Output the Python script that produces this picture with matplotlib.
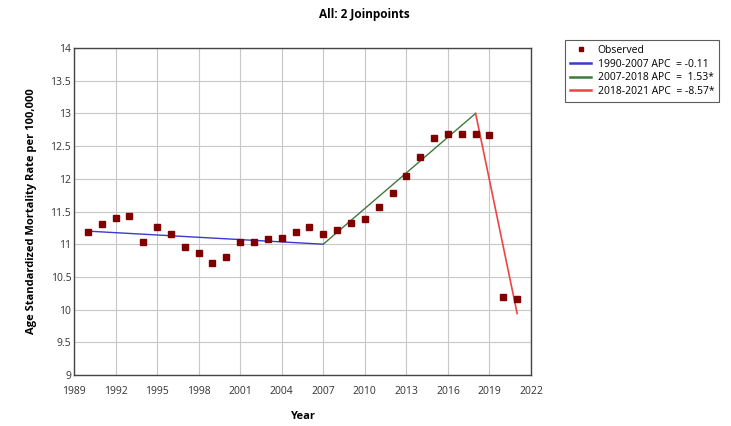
import numpy as np
import matplotlib.pyplot as plt
from matplotlib.ticker import FuncFormatter

# observed age standardized mortality rates
years = list(range(1990, 2022))
observed = [11.19, 11.31, 11.40, 11.43, 11.03, 11.26, 11.16, 10.95, 10.87, 10.72,
            10.81, 11.03, 11.04, 11.08, 11.10, 11.18, 11.26, 11.16, 11.22, 11.32,
            11.39, 11.57, 11.79, 12.05, 12.33, 12.62, 12.69, 12.69, 12.69, 12.67,
            10.20, 10.16]

# fitted joinpoint segments
seg1_years = [1990, 2007]
seg1_vals = [11.20, 11.00]
seg2_years = [2007, 2018]
seg2_vals = [11.00, 13.00]
seg3_years = [2018, 2021]
seg3_vals = [13.00, 9.94]

seg_labels = ["1990-2007 APC  = -0.11",
              "2007-2018 APC  =  1.53*",
              "2018-2021 APC  = -8.57*"]

xticks = list(range(1989, 2023, 3))
yticks = np.arange(9, 14.01, 0.5)

plt.rcParams['font.family'] = ['Open Sans', 'DejaVu Sans']

fig = plt.figure(figsize=(7.31, 4.26), dpi=100)
ax = fig.add_axes([0.1012, 0.1197, 0.6252, 0.7676])

ax.plot(years, observed, linestyle='none', marker='s', markersize=4.5,
        color='#800000', label='Observed', zorder=3)
ax.plot(seg1_years, seg1_vals, color='#3a3acc', linewidth=1.0, label=seg_labels[0])
ax.plot(seg2_years, seg2_vals, color='#3d7a3d', linewidth=1.0, label=seg_labels[1])
ax.plot(seg3_years, seg3_vals, color='#ee4444', linewidth=1.2, label=seg_labels[2])

ax.set_xlim(1989, 2022)
ax.set_ylim(9, 14)
ax.set_xticks(xticks)
ax.set_yticks(yticks)
ax.yaxis.set_major_formatter(FuncFormatter(lambda v, p: f"{v:g}"))
ax.tick_params(labelsize=7.5, length=0, colors='#333333')
ax.tick_params(axis='x', pad=8)
ax.tick_params(axis='y', pad=2)
ax.grid(True, color='#c8c8c8', linewidth=0.8)
ax.set_axisbelow(True)
for s in ax.spines.values():
    s.set_color('#444444')
    s.set_linewidth(1.0)

ax.set_xlabel("Year", fontsize=8, fontweight='bold', labelpad=10)
ax.set_ylabel("Age Standardized Mortality Rate per 100,000", fontsize=8,
              fontweight='bold', labelpad=10)
fig.text(0.498, 0.965, "All: 2 Joinpoints", fontsize=8.5, fontweight='bold',
         ha='center', va='center')

leg = ax.legend(loc='upper left', bbox_to_anchor=(1.075, 1.025), fontsize=7.5,
                frameon=True, fancybox=False, borderpad=0.5, handlelength=2.0,
                labelspacing=0.25, handletextpad=0.6, borderaxespad=0)
leg.get_frame().set_edgecolor('#333333')
leg.get_frame().set_linewidth(0.8)
for h in leg.legend_handles[1:]:
    h.set_linewidth(1.8)
leg.legend_handles[0].set_markersize(3)

plt.savefig("out.png", dpi=100)
